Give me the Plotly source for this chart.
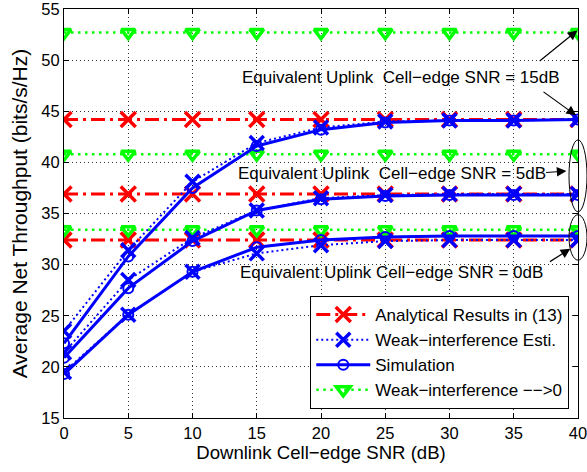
import plotly.graph_objects as go

snr = [0, 5, 10, 15, 20, 25, 30, 35, 40]

# Analytical results (flat lines) for uplink SNR 15, 5, 0 dB
analytical_15 = [44.2] * 9
analytical_5 = [36.9] * 9
analytical_0 = [32.4] * 9

# Weak-interference estimation
esti_15 = [23.5, 31.4, 38.1, 41.9, 43.4, 44.0, 44.1, 44.1, 44.2]
esti_5 = [21.4, 28.5, 32.6, 35.3, 36.5, 36.8, 36.9, 36.9, 36.9]
esti_0 = [19.5, 25.1, 29.3, 31.1, 31.9, 32.3, 32.4, 32.4, 32.4]

# Simulation
sim_15 = [22.3, 30.8, 37.5, 41.6, 43.2, 43.9, 44.1, 44.1, 44.2]
sim_5 = [20.9, 27.7, 32.3, 35.3, 36.4, 36.7, 36.8, 36.8, 36.8]
sim_0 = [19.3, 25.1, 29.3, 31.7, 32.4, 32.7, 32.8, 32.8, 32.8]

# Weak-interference -> 0
zero_15 = [52.7] * 9
zero_5 = [40.8] * 9
zero_0 = [33.4] * 9

legend_names = ["Analytical Results in (13)", "Weak\u2212interference Esti.",
                "Simulation", "Weak\u2212interference \u2212\u2212>0"]

fig = go.Figure()

def add_group(ys, name, line, marker, group, rank):
    for i, y in enumerate(ys):
        fig.add_trace(go.Scatter(
            x=snr, y=y, mode="lines+markers", name=name,
            legendgroup=group, showlegend=(i == 0), legendrank=rank,
            line=line, marker=marker))

add_group([analytical_15, analytical_5, analytical_0], legend_names[0],
          dict(color="#ff0000", width=3, dash="14px,5px,3px,5px"),
          dict(symbol="x-thin-open", size=15, line=dict(color="#ff0000", width=3.5)), "a", 1)
add_group([zero_15, zero_5, zero_0], legend_names[3],
          dict(color="#00ff00", width=2.5, dash="2.5px,4.5px"),
          dict(symbol="triangle-down-open", size=12, line=dict(color="#00f000", width=3.5)), "d", 4)
add_group([esti_15, esti_5, esti_0], legend_names[1],
          dict(color="#0000ff", width=2, dash="2px,3px"),
          dict(symbol="x-thin-open", size=14, line=dict(color="#0000ff", width=3.5)), "b", 2)
add_group([sim_15, sim_5, sim_0], legend_names[2],
          dict(color="#0000ff", width=3),
          dict(symbol="circle-open", size=10, line=dict(color="#0000ff", width=2)), "c", 3)

font = dict(family="Liberation Sans, Arial, sans-serif", size=16.5, color="black")

ann_font = dict(family="Liberation Sans, Arial, sans-serif", size=17, color="black")
annotations = [
    dict(x=26.26, y=48.3, xref="x", yref="y", text="Equivalent Uplink  Cell\u2212edge SNR = 15dB",
         showarrow=False, font=ann_font),
    dict(x=25.56, y=38.93, xref="x", yref="y", text="Equivalent Uplink  Cell\u2212edge SNR = 5dB",
         showarrow=False, font=ann_font),
    dict(x=25.5, y=29.25, xref="x", yref="y", text="Equivalent Uplink Cell\u2212edge SNR = 0dB",
         showarrow=False, font=ann_font),
    dict(x=39.95, y=52.9, ax=36.9, ay=49.8, xref="x", yref="y", axref="x", ayref="y",
         text="", showarrow=True, arrowhead=2, arrowsize=1.6, arrowwidth=1.2, arrowcolor="black"),
    dict(x=39.85, y=44.6, ax=37.2, ay=47.0, xref="x", yref="y", axref="x", ayref="y",
         text="", showarrow=True, arrowhead=2, arrowsize=1.6, arrowwidth=1.2, arrowcolor="black"),
    dict(x=39.1, y=39.15, ax=37.4, ay=39.0, xref="x", yref="y", axref="x", ayref="y",
         text="", showarrow=True, arrowhead=2, arrowsize=1.6, arrowwidth=1.2, arrowcolor="black"),
    dict(x=39.4, y=31.55, ax=37.7, ay=30.2, xref="x", yref="y", axref="x", ayref="y",
         text="", showarrow=True, arrowhead=2, arrowsize=1.6, arrowwidth=1.2, arrowcolor="black"),
]

shapes = [
    dict(type="circle", xref="paper", yref="paper", x0=0.9825, x1=1.0175, y0=0.504, y1=0.68,
         line=dict(color="black", width=1)),
    dict(type="circle", xref="paper", yref="paper", x0=0.9825, x1=1.0175, y0=0.386, y1=0.497,
         line=dict(color="black", width=1)),
]

axis_common = dict(showline=True, linecolor="black", linewidth=1, mirror="ticks",
                   ticks="inside", ticklen=5, tickcolor="black",
                   showgrid=True, gridcolor="#333333", gridwidth=1, griddash="1px,3px",
                   zeroline=False, tickfont=font, automargin=False,
                   ticklabeloverflow="allow")

fig.update_layout(
    width=587, height=472,
    margin=dict(l=64, r=9, t=9, b=54, autoexpand=False),
    paper_bgcolor="white", plot_bgcolor="white",
    font=font,
    xaxis=dict(range=[0, 40], tickvals=[0, 5, 10, 15, 20, 25, 30, 35, 40],
               title=dict(text="Downlink Cell\u2212edge SNR (dB)", font=dict(size=18.6), standoff=5),
               **axis_common),
    yaxis=dict(range=[15, 55], tickvals=[15, 20, 25, 30, 35, 40, 45, 50, 55],
               title=dict(text="Average Net Throughput (bits/s/Hz)", font=dict(size=21), standoff=7),
               **axis_common),
    legend=dict(x=0.983, y=0.022, xanchor="right", yanchor="bottom",
                bgcolor="white", bordercolor="black", borderwidth=1,
                font=dict(size=17), tracegroupgap=0, traceorder="normal",
                itemwidth=54),
    annotations=annotations,
    shapes=shapes,
)

fig.write_html("out.html")
